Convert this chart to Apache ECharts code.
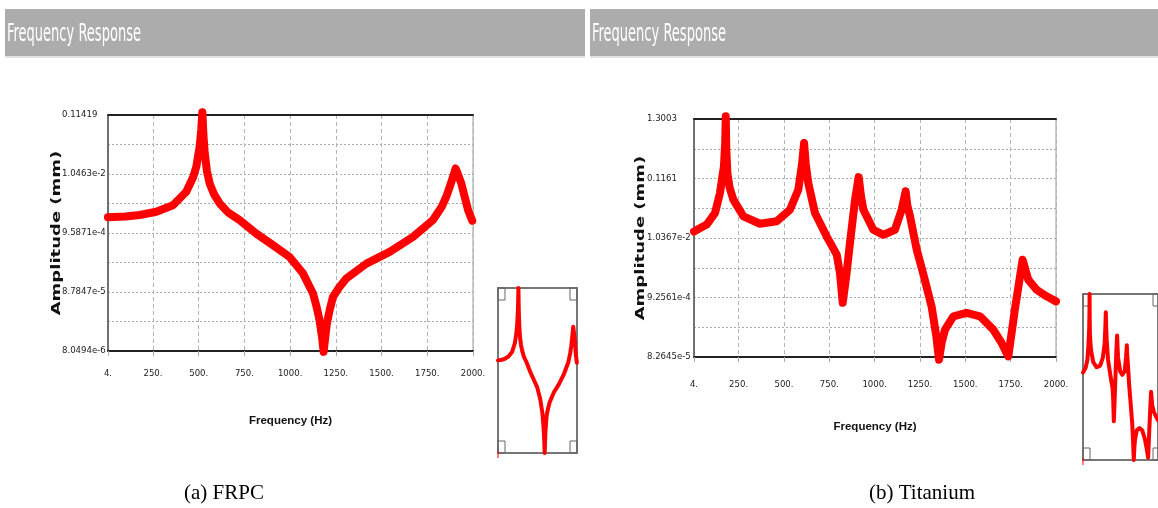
<!DOCTYPE html>
<html>
<head>
<meta charset="utf-8">
<script src="https://cdn.jsdelivr.net/npm/echarts@6/dist/echarts.min.js"></script>
<style>
  html, body { margin: 0; padding: 0; background: #fff; }
  #chart { width: 1158px; height: 508px; }
</style>
</head>
<body>
<div id="chart"></div>
<script>
// x ticks shared by both plots
var xTicks = [4, 250, 500, 750, 1000, 1250, 1500, 1750, 2000];

// (a) FRPC
var frpcTicks = ['8.0494e-6', '8.7847e-5', '9.5871e-4', '1.0463e-2', '0.11419'];
var frpcFreq = [4, 100, 177, 268, 359, 432, 470, 487, 505, 514, 520, 526, 533, 545, 560, 585, 615, 660, 724, 815,
  906, 997, 1070, 1125, 1145, 1161, 1175, 1183, 1191, 1201, 1216, 1234, 1270, 1307, 1417, 1544, 1672, 1781, 1830,
  1854, 1880, 1905, 1920, 1936, 1973, 1996];
var frpcAmp = [1.81e-3, 1.87e-3, 1.99e-3, 2.27e-3, 2.95e-3, 5.11e-3, 9.29e-3, 1.41e-2, 3.14e-2, 6.28e-2, 0.128,
  4.95e-2, 2.42e-2, 1.18e-2, 7.14e-3, 4.53e-3, 3.17e-3, 2.21e-3, 1.62e-3, 9.36e-4, 5.87e-4, 3.64e-4, 1.87e-4,
  8.27e-5, 4.78e-5, 2.79e-5, 1.38e-5, 7.77e-6, 1.30e-5, 2.45e-5, 4.19e-5, 7.17e-5, 1.08e-4, 1.52e-4, 2.77e-4,
  4.46e-4, 8.21e-4, 1.62e-3, 2.81e-3, 4.17e-3, 7.31e-3, 1.31e-2, 9.86e-3, 7.14e-3, 2.43e-3, 1.57e-3];

// (b) Titanium
var tiTicks = ['8.2645e-5', '9.2561e-4', '1.0367e-2', '0.1161', '1.3003'];
var tiFreq = [4, 74, 120, 147, 169, 176, 179, 182, 188, 200, 221, 276, 368, 460, 533, 579, 600, 611, 620, 634,
  671, 735, 791, 809, 824, 845, 864, 892, 912, 925, 938, 993, 1048, 1112, 1149, 1171, 1180, 1195, 1232, 1269,
  1314, 1340, 1355, 1370, 1388, 1434, 1507, 1581, 1654, 1700, 1737, 1755, 1773, 1816, 1847, 1893, 1948, 2000];
var tiAmp = [1.35e-2, 1.79e-2, 2.86e-2, 6.42e-2, 0.19, 0.495, 1.45, 0.388, 0.144, 8.08e-2, 4.92e-2, 2.50e-2,
  1.85e-2, 2.04e-2, 3.27e-2, 7.34e-2, 0.212, 0.489, 0.212, 9.69e-2, 2.86e-2, 1.11e-2, 5.27e-3, 2.49e-3, 7.45e-4,
  2.43e-3, 8.44e-3, 4.92e-2, 0.123, 5.62e-2, 3.27e-2, 1.45e-2, 1.18e-2, 1.45e-2, 3.27e-2, 6.91e-2, 3.91e-2,
  2.50e-2, 6.47e-3, 2.35e-3, 6.44e-4, 1.93e-4, 7.41e-5, 1.51e-4, 2.51e-4, 4.32e-4, 4.94e-4, 4.32e-4, 2.51e-4,
  1.46e-4, 8.47e-5, 2.17e-4, 5.64e-4, 4.29e-3, 1.91e-3, 1.27e-3, 9.71e-4, 7.91e-4];

var cond = "'DejaVu Sans Condensed', 'DejaVu Sans', sans-serif";

// log scale: first and last tick label span 8 half-steps
function toLevel(v, ticks) {
  var lo = Math.log10(parseFloat(ticks[0]));
  var hi = Math.log10(parseFloat(ticks[ticks.length - 1]));
  return 8 * (Math.log10(v) - lo) / (hi - lo);
}
function pairs(freq, amp, ticks) {
  return freq.map(function (f, i) { return [f, toLevel(amp[i], ticks)]; });
}

function mainX(grid, labelMargin, nameGap) {
  return {
    type: 'value', gridIndex: grid, min: 4, max: 2000,
    name: 'Frequency (Hz)', nameLocation: 'middle', nameGap: nameGap,
    nameTextStyle: { fontFamily: 'Liberation Sans', fontWeight: 'bold', fontSize: 11.5, color: '#111' },
    axisLine: { lineStyle: { color: '#222', width: 2 } },
    axisTick: { customValues: xTicks, length: 5, lineStyle: { color: '#aaa' } },
    axisLabel: {
      customValues: xTicks, margin: labelMargin, color: '#222', fontFamily: cond, fontSize: 9.5,
      formatter: function (v) { return v + '.'; }
    },
    splitLine: { show: true, lineStyle: { color: '#b4b4b4', type: [4, 3] } }
  };
}
function topX(grid) {
  return {
    type: 'value', gridIndex: grid, min: 4, max: 2000, position: 'top',
    axisLine: { lineStyle: { color: '#222', width: 2 } },
    axisTick: { show: false }, axisLabel: { show: false }, splitLine: { show: false }
  };
}
function mainY(grid, ticks, margin) {
  return {
    type: 'value', gridIndex: grid, min: 0, max: 8, interval: 1,
    axisLine: { show: true, lineStyle: { color: '#555', width: 1.5 } },
    axisTick: { show: false },
    axisLabel: {
      align: 'left', margin: margin, color: '#222', fontFamily: cond, fontSize: 9.5,
      formatter: function (v) { return v % 2 === 0 ? ticks[v / 2] : ''; }
    },
    splitLine: { show: true, lineStyle: { color: '#aaa', type: [2, 2] } }
  };
}
function thumbX(grid) {
  return { type: 'value', gridIndex: grid, min: 4, max: 2000, show: false };
}
function thumbY(grid) {
  return { type: 'value', gridIndex: grid, min: 'dataMin', max: 'dataMax', show: false };
}

function header(x, w) {
  return [
    { type: 'rect', shape: { x: x, y: 9, width: w, height: 47 }, style: { fill: '#acacac' } },
    { type: 'rect', shape: { x: x, y: 56, width: w, height: 2 }, style: { fill: '#e2e2e2' } },
    { type: 'text', x: x + 2, y: 34, scaleX: 0.58,
      style: { text: 'Frequency Response', fill: '#fff', fontFamily: cond, fontSize: 25, verticalAlign: 'middle' } }
  ];
}
function yTitle(x, y) {
  return { type: 'text', x: x, y: y, rotation: Math.PI / 2, scaleX: 1.5,
    style: { text: 'Amplitude (mm)', fill: '#111', fontFamily: 'DejaVu Sans', fontWeight: 'bold', fontSize: 12,
      align: 'center', verticalAlign: 'middle' } };
}
function brackets(x, y, w, h) {
  var s = { stroke: '#666', fill: 'none', lineWidth: 1 };
  return [
    { type: 'rect', shape: { x: x, y: y, width: 7, height: 12 }, style: s },
    { type: 'rect', shape: { x: x + w - 7, y: y, width: 7, height: 12 }, style: s },
    { type: 'rect', shape: { x: x, y: y + h - 12, width: 7, height: 12 }, style: s },
    { type: 'rect', shape: { x: x + w - 7, y: y + h - 12, width: 7, height: 12 }, style: s },
    { type: 'line', shape: { x1: x, y1: y + h - 2, x2: x, y2: y + h + 5 }, style: { stroke: '#f00', lineWidth: 1 } }
  ];
}
function caption(x, text) {
  return { type: 'text', x: x, y: 493, style: { text: text, fill: '#000',
    fontFamily: "'Liberation Serif', serif", fontSize: 21, align: 'center', verticalAlign: 'middle' } };
}

var chart = echarts.init(document.getElementById('chart'));
chart.setOption({
  animation: false,
  backgroundColor: '#fff',
  grid: [
    { left: 108, top: 115, width: 365, height: 236, show: true, borderColor: '#9a9a9a', borderWidth: 1 },
    { left: 694, top: 119, width: 362, height: 238, show: true, borderColor: '#9a9a9a', borderWidth: 1 },
    { left: 498, top: 288, width: 79, height: 165, show: true, borderColor: '#777', borderWidth: 2 },
    { left: 1083, top: 294, width: 77, height: 166, show: true, borderColor: '#777', borderWidth: 2 }
  ],
  xAxis: [mainX(0, 18, 64), topX(0), mainX(1, 23, 64), topX(1), thumbX(2), thumbX(3)],
  yAxis: [mainY(0, frpcTicks, 46), mainY(1, tiTicks, 47), thumbY(2), thumbY(3)],
  series: [
    { type: 'line', xAxisIndex: 0, yAxisIndex: 0, data: pairs(frpcFreq, frpcAmp, frpcTicks), showSymbol: false,
      clip: false, lineStyle: { color: '#ff0000', width: 8, cap: 'round', join: 'round' } },
    { type: 'line', xAxisIndex: 2, yAxisIndex: 1, data: pairs(tiFreq, tiAmp, tiTicks), showSymbol: false,
      clip: false, lineStyle: { color: '#ff0000', width: 8, cap: 'round', join: 'round' } },
    { type: 'line', xAxisIndex: 4, yAxisIndex: 2, data: pairs(frpcFreq, frpcAmp, frpcTicks), showSymbol: false,
      lineStyle: { color: '#ff0000', width: 4, cap: 'round', join: 'round' } },
    { type: 'line', xAxisIndex: 5, yAxisIndex: 3, data: pairs(tiFreq, tiAmp, tiTicks), showSymbol: false,
      lineStyle: { color: '#ff0000', width: 4, cap: 'round', join: 'round' } }
  ],
  graphic: [].concat(
    header(5, 580), header(590, 568),
    [yTitle(57, 233), yTitle(641, 238)],
    brackets(498, 288, 79, 165), brackets(1083, 294, 77, 166),
    [caption(224, '(a) FRPC'), caption(922, '(b) Titanium')]
  )
});
</script>
</body>
</html>
